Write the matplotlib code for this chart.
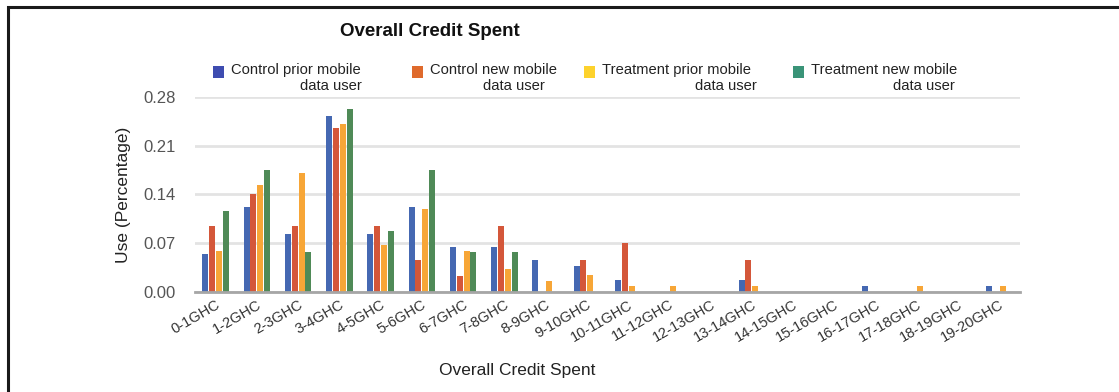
import matplotlib
matplotlib.use("Agg")
import matplotlib.pyplot as plt
from matplotlib.patches import Rectangle
import numpy as np

plt.rcParams['font.family'] = ['Liberation Sans', 'DejaVu Sans']

categories = ["0-1GHC", "1-2GHC", "2-3GHC", "3-4GHC", "4-5GHC", "5-6GHC", "6-7GHC",
              "7-8GHC", "8-9GHC", "9-10GHC", "10-11GHC", "11-12GHC", "12-13GHC",
              "13-14GHC", "14-15GHC", "15-16GHC", "16-17GHC", "17-18GHC", "18-19GHC",
              "19-20GHC"]

control_prior = [0.055, 0.122, 0.084, 0.253, 0.084, 0.122, 0.065, 0.065, 0.046, 0.037,
                 0.017, 0.0, 0.0, 0.017, 0.0, 0.0, 0.008, 0.0, 0.0, 0.008]
control_new = [0.095, 0.141, 0.095, 0.236, 0.095, 0.046, 0.023, 0.095, 0.0, 0.046,
               0.070, 0.0, 0.0, 0.046, 0.0, 0.0, 0.0, 0.0, 0.0, 0.0]
treatment_prior = [0.059, 0.154, 0.171, 0.241, 0.067, 0.119, 0.059, 0.033, 0.016, 0.025,
                   0.008, 0.008, 0.0, 0.008, 0.0, 0.0, 0.0, 0.008, 0.0, 0.008]
treatment_new = [0.116, 0.175, 0.057, 0.263, 0.087, 0.175, 0.058, 0.058, 0.0, 0.0,
                 0.0, 0.0, 0.0, 0.0, 0.0, 0.0, 0.0, 0.0, 0.0, 0.0]

series = [control_prior, control_new, treatment_prior, treatment_new]
legend_lines1 = ["Control prior mobile", "Control new mobile",
                 "Treatment prior mobile", "Treatment new mobile"]
legend_line2 = "data user"
yticks = [0.00, 0.07, 0.14, 0.21, 0.28]

bar_colors = ["#4568b2", "#d4573a", "#f7a637", "#4f8a57"]
legend_colors = ["#3e4cb0", "#df6a2c", "#fdd22c", "#3a9478"]

W, H = 1119, 392
fig = plt.figure(figsize=(W / 100, H / 100), dpi=100)
fig.patch.set_facecolor("white")

# outer frame
fig.add_artist(Rectangle((8 / W, -0.05), 1.2, (H - 7) / H + 0.05, transform=fig.transFigure,
                         fill=False, edgecolor="#1a1a1a", linewidth=2.2))

ax = fig.add_axes([195 / W, (H - 292) / H, 825 / W, 195 / H])
x = np.arange(len(categories))
bw = 0.145
step = 0.165
for i, (vals, col) in enumerate(zip(series, bar_colors)):
    ax.bar(x + (i - 1.5) * step, vals, width=bw, color=col, zorder=3)

ax.set_xlim(-0.5, len(categories) - 0.5)
ax.set_ylim(0, 0.28)
ax.set_yticks(yticks)
ax.set_yticklabels([f"{v:.2f}" for v in yticks], color="#555555", fontsize=12)
ax.yaxis.grid(True, color="#e3e3e3", linewidth=2, zorder=0)
ax.set_axisbelow(True)
for s in ["top", "right", "left"]:
    ax.spines[s].set_visible(False)
ax.spines["bottom"].set_color("#a6a6a6")
ax.spines["bottom"].set_linewidth(2)
ax.spines["bottom"].set_zorder(4)
ax.tick_params(axis="y", length=0, pad=14)
ax.tick_params(axis="x", length=0, pad=4)
ax.set_xticks(x)
ax.set_xticklabels(categories, rotation=30, ha="right", rotation_mode="anchor",
                   fontsize=10.5, color="#333333")
ax.set_ylabel("Use (Percentage)", fontsize=12.5, color="#222222", labelpad=9)
fig.text(517 / W, 1 - 370 / H, "Overall Credit Spent", ha="center", va="center",
         fontsize=12.5, color="#222222")

fig.text(430 / W, 1 - 31 / H, "Overall Credit Spent", ha="center", va="center",
         fontsize=13.5, fontweight="bold", color="#111111")

# legend
sq_x = [213, 412, 584, 793]
txt_right = [362, 545, 757, 955]
for sx, tr, l1, col in zip(sq_x, txt_right, legend_lines1, legend_colors):
    fig.add_artist(Rectangle((sx / W, 1 - 78 / H), 11 / W, 12 / H, transform=fig.transFigure,
                             facecolor=col, edgecolor="none"))
    fig.text((sx + 18) / W, 1 - 70 / H, l1, ha="left", va="center", fontsize=10.6,
             color="#222222")
    fig.text(tr / W, 1 - 86 / H, legend_line2, ha="right", va="center", fontsize=10.6,
             color="#222222")

fig.savefig("out.png", dpi=100)
